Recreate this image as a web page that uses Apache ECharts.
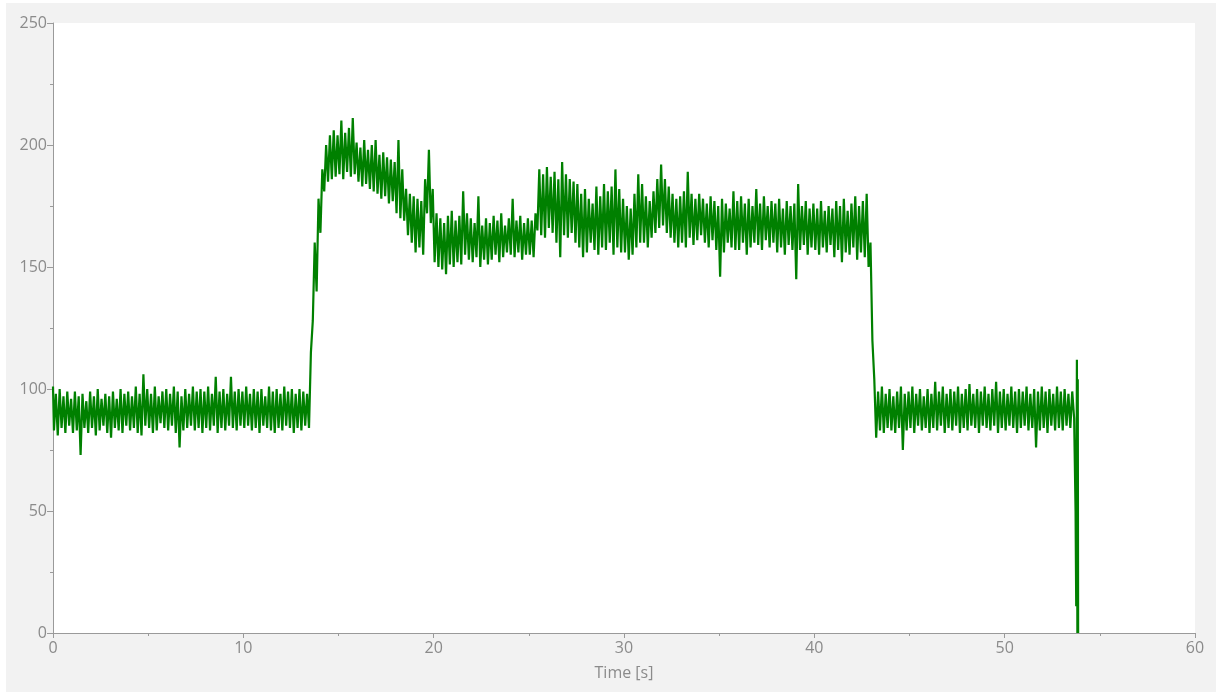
<!DOCTYPE html>
<html>
<head>
<meta charset="utf-8">
<script src="https://cdn.jsdelivr.net/npm/echarts@6/dist/echarts.min.js"></script>
<style>
  html, body { margin: 0; padding: 0; background: #ffffff; }
  #bg { position: absolute; left: 6px; top: 3px; width: 1210px; height: 689px; background: #f2f2f2; }
  #chart { position: absolute; left: 0; top: 0; width: 1222px; height: 693px; }
</style>
</head>
<body>
<div id="bg"></div>
<div id="chart"></div>
<script>
// Sample spacing of the recorded signal (s)
const sampleStep = 0.1;
// Signal values, one per 0.1 s, starting at t = 0 (each row = 1 s)
const signal = [
  101,83,98,81,100,84,97,82,99,85,
  96,82,99,83,97,73,98,84,95,82,
  99,84,97,81,100,83,96,85,98,82,
  97,80,99,84,96,83,100,82,98,85,
  99,83,97,84,101,82,98,81,106,85,
  100,84,98,82,101,83,97,86,99,84,
  100,83,98,85,101,82,99,76,97,83,
  100,84,98,85,101,83,99,84,100,82,
  99,84,101,83,98,85,105,82,99,84,
  100,83,98,85,105,84,99,83,100,85,
  99,84,101,85,98,83,100,84,99,82,
  100,85,97,84,101,83,99,82,100,84,
  98,83,101,85,99,84,100,82,98,84,
  100,83,99,85,98,84,115,128,160,140,
  178,164,190,181,200,185,204,186,206,187,
  204,188,210,186,205,189,207,187,211,188,
  201,185,199,183,202,184,198,182,200,181,
  202,180,196,178,197,179,195,176,194,177,
  193,172,202,170,190,169,182,163,180,160,
  179,156,178,158,177,155,186,172,198,168,
  182,152,172,150,170,149,168,147,171,151,
  173,150,169,152,171,151,181,155,172,153,
  170,152,168,154,179,150,167,153,170,151,
  168,153,171,155,169,152,172,154,167,156,
  170,155,178,154,169,156,171,153,168,155,
  170,155,169,154,172,165,190,163,188,162,
  191,166,187,164,189,160,186,154,193,163,
  188,162,186,164,185,160,184,158,180,154,
  182,156,178,160,176,157,183,155,179,158,
  184,157,181,160,183,155,190,158,182,156,
  178,156,175,153,174,155,180,158,188,160,
  184,160,179,158,177,162,181,164,186,166,
  192,167,186,164,183,162,180,160,178,158,
  179,160,181,158,189,162,180,159,178,161,
  180,163,178,160,176,158,179,161,177,157,
  175,146,178,156,176,160,174,158,181,157,
  177,157,179,160,176,155,178,158,175,160,
  182,159,176,157,179,161,175,158,177,160,
  176,156,178,158,174,155,177,159,175,157,
  176,145,184,157,175,159,177,155,174,158,
  176,157,174,155,177,158,173,156,175,159,
  174,154,177,157,175,152,178,156,173,155,
  176,158,179,153,175,156,177,154,180,150,
  160,120,104,80,99,83,101,82,98,84,
  100,83,97,82,99,84,101,75,98,83,
  99,84,101,82,98,85,100,83,97,84,
  100,82,98,84,103,83,99,85,101,82,
  98,84,100,83,99,85,101,82,98,84,
  100,83,102,85,98,84,100,82,99,85,
  101,84,98,83,100,85,103,82,99,84,
  100,83,98,85,101,84,99,82,100,84,
  99,85,101,83,98,84,100,76,99,83,
  101,84,99,82,100,85,98,83,101,84,
  99,83,100,85,98,84,99,88
];
// Final cut-off glitch at the end of the recording
const tailTime  = [53.75, 53.77, 53.78, 53.81, 53.83, 53.85, 53.87];
const tailValue = [50,    11,    50,    112,   0,     104,   0];

const xName = 'Time [s]';

const points = signal.map((v, i) => [+(i * sampleStep).toFixed(2), v]);
tailTime.forEach((t, i) => points.push([t, tailValue[i]]));

const labelColor = '#8b8b8b';
const axisColor = '#9a9a9a';
const font = "'Open Sans', 'DejaVu Sans', sans-serif";

const chart = echarts.init(document.getElementById('chart'), null, { renderer: 'canvas' });
chart.setOption({
  animation: false,
  backgroundColor: 'transparent',
  grid: {
    left: 53, right: 27, top: 23, bottom: 60,
    show: true, backgroundColor: '#ffffff', borderWidth: 0
  },
  xAxis: {
    type: 'value', min: 0, max: 60, interval: 10,
    name: xName, nameLocation: 'middle', nameGap: 32,
    nameTextStyle: { color: labelColor, fontSize: 16, fontFamily: font },
    axisLine: { show: true, lineStyle: { color: axisColor, width: 1 } },
    axisTick: { show: true, length: 5, lineStyle: { color: axisColor } },
    minorTick: { show: true, splitNumber: 2, length: 3, lineStyle: { color: axisColor } },
    splitLine: { show: false },
    axisLabel: { color: labelColor, fontSize: 16, fontFamily: font, margin: 7 }
  },
  yAxis: {
    type: 'value', min: 0, max: 250, interval: 50,
    axisLine: { show: true, lineStyle: { color: axisColor, width: 1 } },
    axisTick: { show: true, length: 6, lineStyle: { color: axisColor } },
    minorTick: { show: true, splitNumber: 2, length: 3, lineStyle: { color: axisColor } },
    splitLine: { show: false },
    axisLabel: { color: labelColor, fontSize: 16, fontFamily: font, margin: 6 }
  },
  series: [{
    type: 'line',
    data: points,
    step: 'middle',
    showSymbol: false,
    symbol: 'none',
    sampling: null,
    lineStyle: { color: '#008000', width: 2.2 },
    itemStyle: { color: '#008000' }
  }]
});
</script>
</body>
</html>
